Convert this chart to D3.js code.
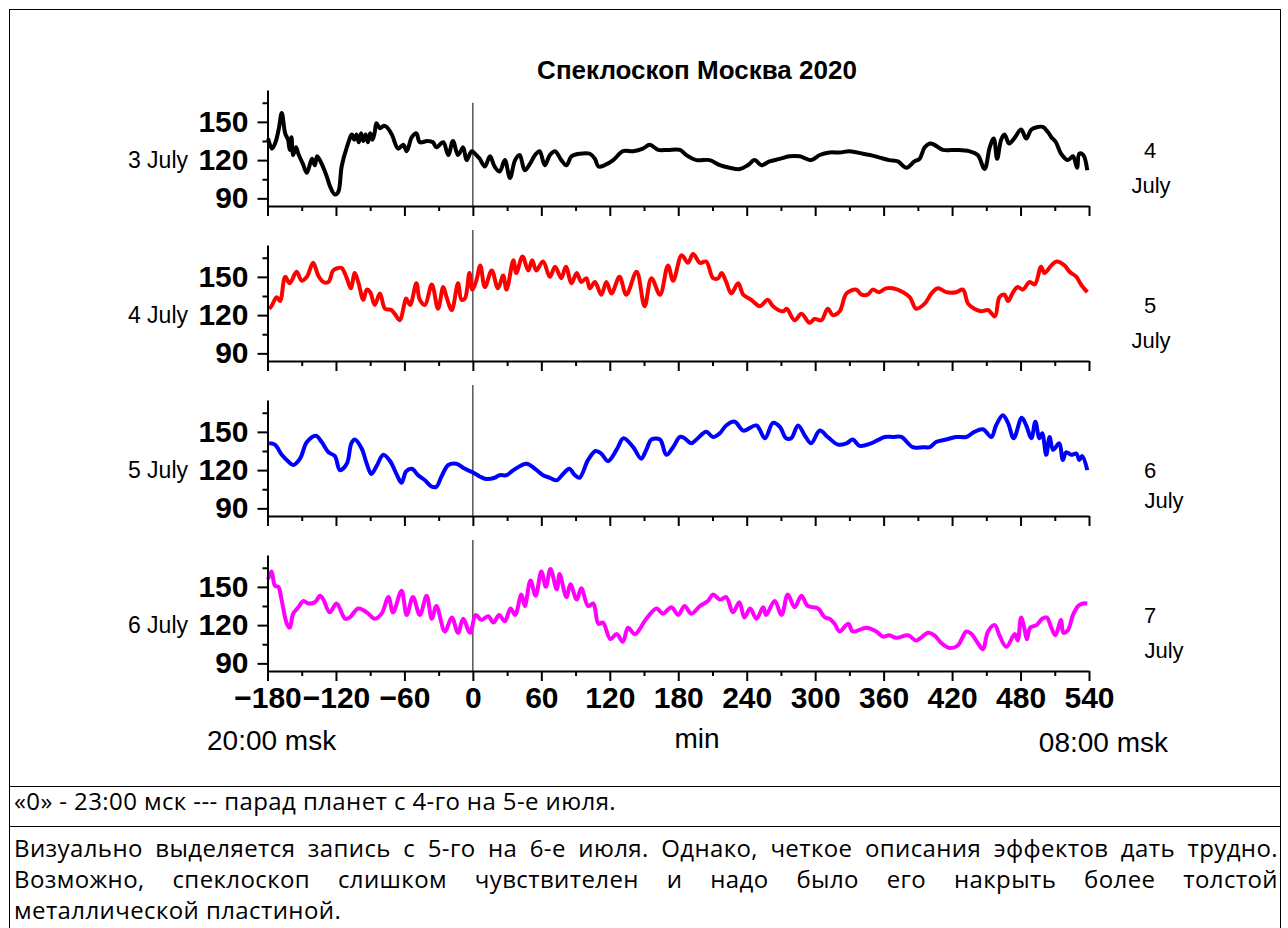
<!DOCTYPE html>
<html>
<head>
<meta charset="utf-8">
<script src="https://cdn.jsdelivr.net/npm/d3@7"></script>
<style>
  body { margin: 0; background: #fff; }
  figure { margin: 0; }
  svg { display: block; }
</style>
</head>
<body>
<figure id="chart"></figure>
<script>
// minutes from "0" (23:00 msk) at the turning points
const july3Min = [-179.5,-176,-173,-170,-167.5,-164.5,-162,-160.5,-159,-157.5,-155,-153,-149,-145.5,-141,-138.5,-136.5,-132.5,-128,-125,-121,-118,-115,-110.5,-106,-104,-102,-100,-98,-96,-94,-92,-90,-88,-86,-84.5,-81.5,-78,-75.5,-71,-65.5,-61,-58,-53.5,-49.5,-46.5,-40,-35,-32,-26,-21.5,-17.5,-13,-8.5,-5.5,-1,3,6,10.5,15,19,23.5,28,32.5,37,41,45.5,50,54.5,58.5,63,67.5,72,77.5,82,86.5,93.5,102.5,107,110,115.5,123,131.5,140.5,149,155,162.5,171,181.5,187,196,207.5,216.5,225,234,241,247,253,260,269,277.5,286.5,296.5,304,312.5,321.5,330,342,348,356.5,365,372.5,380,387,391.5,396,400.5,404.5,412,423.5,435,442.5,448.5,453,456.5,459.5,463,466,470,474.5,480.5,485,489.5,495,499.5,504,507,511,515.5,521.5,526,529.5,531.5,535,538.5];
const july3Val = [137,129,134,145,157,141,136,128,138,124,130,125,117,110,121,116,123,117,107,99,93,95,115,130,140,136,140,134,141,135,140,134,141,136,142,149,145,147,146,140,129,132,127,138,141,134,135,134,130,134,124,135,124,130,120,127,124,121,115,123,115,111,120,106,120,124,112,117,124,127,116,124,127,120,116,123,125,125,121,115,116,120,127,127,129,132,128,128,128,124,120,120,116,114,113,116,120,116,119,121,123,123,120,124,126,126,127,125,124,122,120,119,114,119,121,130,133,132,128,128,127,124,113,130,137,121,136,140,133,137,144,137,144,146,146,142,138,134,125,120,123,114,125,124,112];

const july4Min = [-178.5,-176.5,-172,-169,-164.5,-160.5,-154.5,-150,-145.5,-140,-135.5,-131,-126.5,-122.5,-118,-115,-110.5,-107,-103.5,-100.5,-96,-93,-90,-86,-81.5,-77,-71.5,-68.5,-64,-60.5,-58.5,-55,-49.5,-46.5,-42,-36,-30.5,-26,-23,-18.5,-13,-10,-7,-3,-0.5,3,6.5,10.5,16.5,22,26.5,29.5,35.5,38,43.5,48.5,52,55.5,61.5,67.5,72,77.5,81.5,86.5,91,95,99.5,102.5,107,112.5,117,121.5,128.5,134.5,143.5,150.5,156.5,164,171,175.5,183,188.5,193,199,204.5,210.5,215,218,222,226.5,232.5,237,244,251.5,258.5,263,272,275,282,288,295,299.5,305.5,311,315.5,321.5,327.5,336,340.5,346,350.5,356,362,368,377,383,388.5,396,402,407.5,415,423.5,429.5,434,439.5,445.5,451.5,457.5,461.5,466,469,473.5,477.5,482,488,492.5,498,501,507,511.5,518.5,523,529,533,538.5];
const july4Val = [125,127,134,131,150,145,154,147,150,161,151,146,146,155,157,157,149,141,153,146,132,140,138,128,137,125,124,121,116,127,133,128,145,132,128,144,125,142,134,124,145,132,133,153,140,147,159,142,155,141,151,140,163,153,166,155,163,155,162,150,158,149,158,145,153,146,149,141,146,136,146,137,150,136,154,127,149,136,159,147,167,161,168,161,162,149,149,153,146,137,145,136,132,127,132,127,123,125,116,121,114,117,116,125,120,123,137,140,136,136,140,138,141,141,138,134,125,129,137,141,138,138,140,129,125,123,124,119,134,136,131,138,142,140,146,144,158,153,159,162,159,154,150,144,138];

const july5Min = [-178.5,-173.5,-167.5,-162,-157.5,-151.5,-145.5,-137.5,-132.5,-126.5,-121,-116.5,-110.5,-106.5,-103.5,-97.5,-93,-89,-84.5,-78.5,-72.5,-67,-62.5,-58.5,-53.5,-48,-42,-36,-32,-27.5,-21.5,-14.5,-7,0.5,6,12,19,23.5,29.5,35.5,47,54.5,61.5,67.5,73.5,79,84.5,89.5,93.5,101,107.5,112.5,118.5,126,132,140.5,147.5,152,156.5,164,169.5,175.5,181.5,185.5,191.5,196,204.5,210.5,216.5,222,229.5,237,248.5,256,263,269,274.5,279,285,291,296.5,304,311,320,327.5,333,339,349,361,368,375.5,385.5,394.5,400.5,406,415,423.5,432.5,439.5,447,454.5,458.5,464.5,469,474,481,485,489.5,493,496.5,499,502.5,505.5,508.5,514,517,520,524.5,529,531.5,534,538.5];
const july5Val = [141,140,132,127,124,129,142,147,142,134,131,120,125,141,144,137,125,117,123,132,127,117,110,119,121,116,112,107,107,115,124,125,121,118,115,113,114,116,116,120,125,121,116,114,112,117,121,116,114,128,135,133,127,136,145,138,129,136,144,144,132,138,146,145,141,144,150,146,149,155,158,151,155,145,157,154,145,145,155,147,141,151,146,140,141,144,139,141,146,146,146,138,138,138,142,144,146,146,150,152,146,155,163,157,145,161,155,145,158,145,149,132,146,136,141,128,134,132,133,128,131,120];

const july6Min = [-179.5,-176.5,-173.5,-170.5,-167.5,-163,-160.5,-157.5,-153,-148.5,-144.5,-138.5,-134,-131,-125.5,-119.5,-112,-108,-100.5,-93,-86,-80,-74,-70,-62.5,-58,-52.5,-46.5,-40.5,-36,-32,-24.5,-18.5,-13,-8.5,-2.5,2.5,7.5,13.5,18,23,28,33,37,42.5,45.5,50.5,55,60,64,68,73.5,76,82,85.5,91,95,101,105.5,110,114,120.5,126,131.5,136,142,152,161,166.5,174,180,185.5,191.5,199,206,210.5,216.5,222,228,233.5,238,243,248.5,254.5,257,264.5,270.5,276,282,288,293.5,302.5,308.5,312.5,317,321.5,329,333,345,353.5,359.5,365,371,381.5,388.5,399,404.5,410.5,418,425,432.5,437,442.5,447,451.5,457.5,461.5,467.5,475,477.5,480.5,483.5,485.5,488.5,494,499,503,507,510.5,515.5,517.5,521.5,526,530.5,534.5,538.5];
const july6Val = [156,162,151,150,139,121,118,129,134,139,137,138,143,140,130,137,125,126,133,130,125,129,142,130,147,128,142,128,143,125,135,115,126,114,125,114,128,124,127,122,128,123,133,128,144,135,155,143,162,150,164,148,160,142,152,140,149,135,137,121,122,109,113,107,118,113,125,133,129,134,128,135,129,135,139,144,140,142,130,138,126,133,125,134,128,139,128,144,134,143,135,133,126,125,121,115,121,115,118,115,111,112,110,112,108,114,112,106,102,104,115,113,106,101,115,120,112,103,113,108,126,117,109,118,120,125,126,118,112,124,114,116,128,135,137,137];

const panelNames = ["3 July", "4 July", "5 July", "6 July"];
const nextDay = ["4", "5", "6", "7"];
const lineColors = ["#000000", "#ff0000", "#0000ff", "#ff00ff"];
const xMajor = [-180,-120,-60,0,60,120,180,240,300,360,420,480,540];
const xMinor = [-150,-90,-30,30,90,150,210,270,330,390,450,510];
const yMajor = [90, 120, 150];
const yMinor = [105, 135, 165];
const chartTitle = "Спеклоскоп Москва 2020";
const notes = [
    "«0» - 23:00 мск --- парад планет с 4-го на 5-е июля.",
    "Визуально выделяется запись с 5-го на 6-е июля. Однако, четкое описания эффектов дать трудно.",
    "Возможно, спеклоскоп слишком чувствителен и надо было его накрыть более толстой",
    "металлической пластиной."
];

const series = [
    {min: july3Min, val: july3Val},
    {min: july4Min, val: july4Val},
    {min: july5Min, val: july5Val},
    {min: july6Min, val: july6Val}
];

let dimensions = {
    width: 1288,
    height: 928,
    plotLeft: 267.5,
    plotRight: 1089,
    panelTop: 90,
    panelHeight: 116,
    panelStep: 155
};

const axisFont = "'Liberation Sans', Arial, sans-serif";

var svg = d3.select("figure#chart")
    .append("svg")
    .attr("width", dimensions.width)
    .attr("height", dimensions.height)
    .attr("viewBox", `0 0 ${dimensions.width} ${dimensions.height}`);

// frame like the table cell around the picture
svg.append("rect")
    .attr("x", 9.5).attr("y", 9.5)
    .attr("width", 1271).attr("height", 940)
    .attr("fill", "none").attr("stroke", "#000").attr("stroke-width", 1);
svg.append("line")
    .attr("x1", 9.5).attr("x2", 1280.5).attr("y1", 786.5).attr("y2", 786.5)
    .attr("stroke", "#000");
svg.append("line")
    .attr("x1", 9.5).attr("x2", 1280.5).attr("y1", 826.5).attr("y2", 826.5)
    .attr("stroke", "#000");

var xScale = d3.scaleLinear()
    .domain([-180, 540])
    .range([dimensions.plotLeft, dimensions.plotRight]);

svg.append("text")
    .attr("x", 697).attr("y", 79)
    .attr("text-anchor", "middle")
    .attr("font-family", axisFont)
    .attr("font-weight", "bold")
    .attr("font-size", 26)
    .text(chartTitle);

// minus sign as in the original graph
const fmtTick = d => (d < 0 ? "\u2212" + Math.abs(d) : String(d));

series.forEach((s, i) => {
    const top = dimensions.panelTop + i * dimensions.panelStep;
    const bottom = top + dimensions.panelHeight;

    var yScale = d3.scaleLinear()
        .domain([84, 175])
        .range([bottom, top]);

    var g = svg.append("g");

    // zero line (planet parade)
    g.append("line")
        .attr("x1", xScale(0)).attr("x2", xScale(0))
        .attr("y1", i === 0 ? yScale(165) : top - 15)
        .attr("y2", bottom)
        .attr("stroke", "#000").attr("stroke-width", 1);

    var line = d3.line()
        .x((d, k) => xScale(s.min[k]))
        .y(d => yScale(d))
        .curve(d3.curveCatmullRom.alpha(0.5));

    g.append("path")
        .datum(s.val)
        .attr("d", line)
        .attr("fill", "none")
        .attr("stroke", lineColors[i])
        .attr("stroke-width", 4)
        .attr("stroke-linejoin", "round");

    // y axis
    var yAxis = g.append("g")
        .attr("transform", `translate(${dimensions.plotLeft},0)`)
        .call(d3.axisLeft(yScale).tickValues(yMajor).tickSize(10).tickSizeOuter(0).tickPadding(9));
    yAxis.selectAll("text")
        .attr("font-family", axisFont)
        .attr("font-weight", "bold")
        .attr("font-size", 30)
        .attr("fill", "#000");
    g.append("g")
        .attr("transform", `translate(${dimensions.plotLeft},0)`)
        .call(d3.axisLeft(yScale).tickValues(yMinor).tickSize(5).tickFormat(""))
        .select(".domain").remove();

    // x axis
    var xAxis = g.append("g")
        .attr("transform", `translate(0,${bottom})`)
        .call(d3.axisBottom(xScale).tickValues(xMajor).tickSize(10).tickSizeOuter(0).tickPadding(6)
            .tickFormat(i === 3 ? fmtTick : ""));
    xAxis.selectAll("text")
        .attr("font-family", axisFont)
        .attr("font-weight", "bold")
        .attr("font-size", 30)
        .attr("fill", "#000");
    g.append("g")
        .attr("transform", `translate(0,${bottom})`)
        .call(d3.axisBottom(xScale).tickValues(xMinor).tickSize(5).tickFormat(""))
        .select(".domain").remove();

    g.selectAll(".domain, .tick line")
        .attr("stroke", "#000")
        .attr("stroke-width", 2);

    // day labels
    g.append("text")
        .attr("x", 188).attr("y", yScale(120) + 8)
        .attr("text-anchor", "end")
        .attr("font-family", axisFont)
        .attr("font-size", 23)
        .text(panelNames[i]);
    g.append("text")
        .attr("x", 1150).attr("y", yScale(150) + 36 + (i === 2 ? 10 : 0))
        .attr("text-anchor", "middle")
        .attr("font-family", axisFont)
        .attr("font-size", 22)
        .text(nextDay[i]);
    g.append("text")
        .attr("x", i < 2 ? 1151 : 1164).attr("y", yScale(150) + 71 + (i === 2 ? 5 : 0))
        .attr("text-anchor", "middle")
        .attr("font-family", axisFont)
        .attr("font-size", 22)
        .text("July");
});

// time labels under the x axis
svg.append("text")
    .attr("x", 207).attr("y", 750)
    .attr("font-family", axisFont).attr("font-size", 28)
    .text("20:00 msk");
svg.append("text")
    .attr("x", 697).attr("y", 748)
    .attr("text-anchor", "middle")
    .attr("font-family", axisFont).attr("font-size", 28)
    .text("min");
svg.append("text")
    .attr("x", 1168).attr("y", 752)
    .attr("text-anchor", "end")
    .attr("font-family", axisFont).attr("font-size", 28)
    .text("08:00 msk");

// notes below the picture, lines 2 and 3 justified
const noteFont = "'Open Sans', 'Noto Sans', sans-serif";
const noteY = [810, 857, 888, 919];
notes.forEach((t, i) => {
    var txt = svg.append("text")
        .attr("y", noteY[i])
        .attr("font-family", noteFont)
        .attr("font-size", 24)
        .attr("letter-spacing", 0.4)
        .attr("fill", "#000");
    if (i === 1 || i === 2) {
        const words = t.split(" ");
        const spans = words.map(w => txt.append("tspan").text(w));
        const widths = spans.map(sp => sp.node().getComputedTextLength());
        const gap = (1278 - 14 - d3.sum(widths)) / (words.length - 1);
        let x = 14;
        spans.forEach((sp, k) => { sp.attr("x", x); x += widths[k] + gap; });
    } else {
        txt.attr("x", 14).text(t);
    }
});
</script>
</body>
</html>
